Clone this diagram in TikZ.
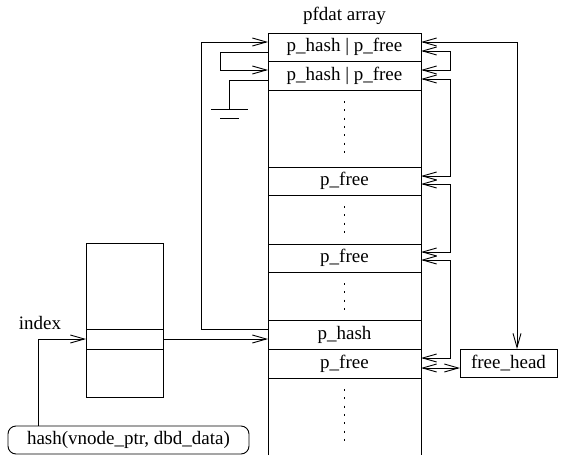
\documentclass[tikz,border=0pt]{standalone}
\usepackage{fontspec}
\setmainfont{Liberation Serif}
\usetikzlibrary{arrows.meta}
\begin{document}
\begin{tikzpicture}[x=1pt,y=-1pt,
  line width=0.9pt,
  >={Straight Barb[length=14pt,width=8pt,line width=0.9pt]},
  every node/.style={font=\fontsize{19}{22}\selectfont, inner sep=0pt, outer sep=0pt},
  cell/.style={draw, minimum width=153pt, anchor=north west},
  plain/.style={draw, anchor=north west},
  dotline/.style={dash pattern=on 2pt off 6.3pt}]
\useasboundingbox (0,0) rectangle (562,455);

% pfdat array: open frame running off the bottom edge
\node (title) at (344.5,16) {pfdat array};
\draw (268,455) -- (268,33) -- (421,33) -- (421,455);
\node[cell, minimum height=28pt] (r1) at (268,33) {p\_hash | p\_free};
\node[cell, minimum height=29pt] (r2) at (268,61) {p\_hash | p\_free};
\node[cell, minimum height=28pt] (f1) at (268,167) {p\_free};
\node[cell, minimum height=28pt] (f2) at (268,244) {p\_free};
\node[cell, minimum height=29pt] (h)  at (268,320) {p\_hash};
\node[cell, minimum height=29pt] (f3) at (268,349) {p\_free};

% elided entries
\draw[dotline] ([yshift=-11pt]r2.south) -- ([yshift=9pt]f1.north);
\draw[dotline] ([yshift=-11pt]f1.south) -- ([yshift=9pt]f2.north);
\draw[dotline] ([yshift=-11pt]f2.south) -- ([yshift=9pt]h.north);
\draw[dotline] ([yshift=-11pt]f3.south) -- (344.5,447);

% hash table
\node[plain, minimum width=77pt, minimum height=154pt] (tab) at (86,243) {};
\node[plain, minimum width=77pt, minimum height=20pt] (slot) at (86,329) {};
\node (idx) at (40,323) {index};
\node[draw, rounded corners=8pt, minimum width=241pt, minimum height=28pt, anchor=north west]
  (hash) at (8,426) {hash(vnode\_ptr, dbd\_data)};

% free list head
\node[plain, minimum width=97pt, minimum height=28pt] (fh) at (460,349) {free\_head};

% hash lookup
\draw[->] (hash.north -| 38,0) |- (slot.west);
\draw[->] (slot.east) -- (slot.east -| h.west);

% hash chain (left side)
\draw[->] (h.west |- 0,329) -| (201,42) -- (r1.west |- 0,42);
\draw[->] (r1.west |- 0,52) -| (220,70) -- (r2.west |- 0,70);
\draw (r2.west |- 0,80) -| (229,109);
\draw (211,109) -- (248,109);
\draw (220,118) -- (239,118);

% free list (right side)
\draw[<->] (r1.east |- 0,51) -| (450,70) -- (r2.east |- 0,70);
\draw[<->] (r2.east |- 0,79) -| (450,176) -- (f1.east |- 0,176);
\draw[<->] (f1.east |- 0,184) -| (450,252) -- (f2.east |- 0,252);
\draw[<->] (f2.east |- 0,260) -| (450,358) -- (f3.east |- 0,358);
\draw[<->] (f3.east |- 0,368) -- (fh.west |- 0,368);
\draw[<->] (r1.east |- 0,42) -| (fh.north -| 517,0);
\end{tikzpicture}
\end{document}
